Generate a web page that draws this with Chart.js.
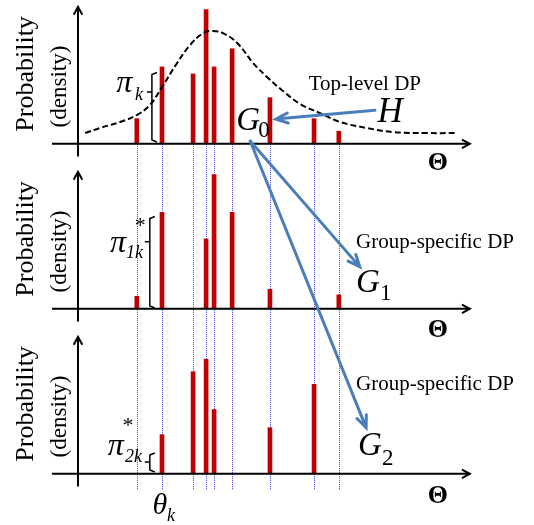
<!DOCTYPE html>
<html>
<head>
<meta charset="utf-8">
<script src="https://cdn.jsdelivr.net/npm/chart.js@4.4.1/dist/chart.umd.min.js"></script>
<style>
  html, body { margin: 0; padding: 0; background: #fff; }
  #hdp { display: block; }
</style>
</head>
<body>
<canvas id="hdp" width="534" height="525"></canvas>
<script>
// atom locations theta_k, shared by all three measures
const atoms = [1.40, 2.00, 2.74, 3.05, 3.24, 3.67, 4.57, 5.62, 6.21];
// stick weights per atom (null = atom has no mass in that group)
const topWeights = [0.18, 0.55, 0.50, 0.96, 0.55, 0.68, 0.33, 0.18, 0.09];
const group1Weights = [0.09, 0.69, null, 0.50, 0.96, 0.69, 0.14, null, 0.10];
const group2Weights = [null, 0.28, 0.73, 0.82, 0.46, null, 0.33, 0.64, null];
// base measure H (dashed curve)
const baseTheta = [0.17, 0.52, 1.00, 1.40, 1.71, 2.00, 2.36, 2.67, 2.98, 3.21, 3.45,
  3.79, 4.17, 4.50, 4.88, 5.29, 5.76, 6.24, 6.88, 7.50, 8.31, 9.02];
const baseDensity = [0.077, 0.113, 0.156, 0.206, 0.277, 0.406, 0.578, 0.707, 0.792, 0.807, 0.792,
  0.721, 0.578, 0.478, 0.378, 0.285, 0.220, 0.156, 0.113, 0.084, 0.077, 0.077];

const panels = ['y1', 'y2', 'y3'];
const serif = '"Liberation Serif", "Times New Roman", serif';
const red = '#c00000';
const blue = '#4a7ebb';

// annotation text: panel, theta, value, text, font, align
const notes = [
  ['y1', 1.10, 0.37, 'π', 'italic 32px', 'center'],
  ['y1', 1.36, 0.31, 'k', 'italic 18px', 'left'],
  ['y1', 4.05, 0.10, 'G', 'italic 33px', 'center'],
  ['y1', 4.29, 0.05, '0', '23px', 'left'],
  ['y1', 7.43, 0.156, 'H', 'italic 35px', 'center'],
  ['y1', 6.83, 0.385, 'Top-level DP', '21px', 'center'],
  ['y1', 8.57, -0.19, 'Θ', 'bold 26px', 'center'],
  ['y2', 0.95, 0.41, 'π', 'italic 32px', 'center'],
  ['y2', 1.48, 0.55, '*', '22px', 'center'],
  ['y2', 1.14, 0.36, '1k', 'italic 18px', 'left'],
  ['y2', 8.50, 0.435, 'Group-specific DP', '21px', 'center'],
  ['y2', 6.90, 0.12, 'G', 'italic 33px', 'center'],
  ['y2', 7.19, 0.063, '1', '23px', 'left'],
  ['y2', 8.57, -0.20, 'Θ', 'bold 26px', 'center'],
  ['y3', 0.90, 0.134, 'π', 'italic 32px', 'center'],
  ['y3', 1.19, 0.30, '*', '22px', 'center'],
  ['y3', 1.12, 0.084, '2k', 'italic 18px', 'left'],
  ['y3', 8.50, 0.60, 'Group-specific DP', '21px', 'center'],
  ['y3', 6.95, 0.134, 'G', 'italic 33px', 'center'],
  ['y3', 7.24, 0.063, '2', '23px', 'left'],
  ['y3', 8.57, -0.21, 'Θ', 'bold 26px', 'center'],
  ['y3', 1.95, -0.29, 'θ', 'italic 30px', 'center'],
  ['y3', 2.12, -0.34, 'k', 'italic 18px', 'left']
];
// braces marking a stick weight: panel, theta, low, mid, high
const braces = [
  ['y1', 1.76, 0.013, 0.37, 0.51],
  ['y2', 1.71, 0.006, 0.48, 0.66],
  ['y3', 1.71, 0.013, 0.084, 0.149]
];
// blue arrows: from [panel, theta, value] to [panel, theta, value]
const links = [
  [['y1', 7.07, 0.241], ['y1', 4.71, 0.177]],
  [['y1', 4.10, 0.02], ['y2', 6.71, 0.30]],
  [['y1', 4.10, 0.02], ['y3', 6.86, 0.33]]
];

function arrow(ctx, x1, y1, x2, y2, head, spread) {
  const a = Math.atan2(y2 - y1, x2 - x1);
  ctx.beginPath();
  ctx.moveTo(x1, y1);
  ctx.lineTo(x2, y2);
  ctx.moveTo(x2 - head * Math.cos(a - spread), y2 - head * Math.sin(a - spread));
  ctx.lineTo(x2, y2);
  ctx.lineTo(x2 - head * Math.cos(a + spread), y2 - head * Math.sin(a + spread));
  ctx.stroke();
}

const overlay = {
  id: 'overlay',
  beforeDatasetsDraw(chart) {
    const ctx = chart.ctx;
    const xs = chart.scales.x;
    ctx.save();
    ctx.strokeStyle = '#3d3dff';
    ctx.lineWidth = 1;
    ctx.setLineDash([1, 1]);
    atoms.forEach((t) => {
      const px = Math.round(xs.getPixelForValue(t)) + 0.5;
      ctx.beginPath();
      ctx.moveTo(px, chart.scales.y1.getPixelForValue(0));
      ctx.lineTo(px, chart.scales.y3.getPixelForValue(-0.116));
      ctx.stroke();
    });
    ctx.restore();
  },
  afterDatasetsDraw(chart) {
    const ctx = chart.ctx;
    const xs = chart.scales.x;
    const pt = (id, t, v) => [xs.getPixelForValue(t), chart.scales[id].getPixelForValue(v)];
    ctx.save();
    // axes with arrowheads
    ctx.strokeStyle = '#000';
    ctx.lineWidth = 2;
    ctx.lineJoin = 'miter';
    panels.forEach((id) => {
      const [ax0, ay] = pt(id, -0.62, 0);
      const [ax1] = pt(id, 9.33, 0);
      arrow(ctx, ax0, ay, ax1, ay, 9, 0.5);
      const [yx, yb] = pt(id, 0, -0.09);
      const [, yt] = pt(id, 0, 0.98);
      arrow(ctx, yx, yb, yx, yt, 9, 0.5);
      // rotated axis titles
      ctx.fillStyle = '#000';
      ctx.textAlign = 'center';
      ctx.textBaseline = 'middle';
      [[-1.24, 0.50, 'Probability', '26px'], [-0.43, 0.41, '(density)', '23px']].forEach(([t, v, s, f]) => {
        const [tx, ty] = pt(id, t, v);
        ctx.save();
        ctx.translate(tx, ty);
        ctx.rotate(-Math.PI / 2);
        ctx.font = f + ' ' + serif;
        ctx.fillText(s, 0, 0);
        ctx.restore();
      });
    });
    // braces
    ctx.lineWidth = 1.5;
    braces.forEach(([id, t, lo, mid, hi]) => {
      const [bx, by0] = pt(id, t, lo);
      const [, bym] = pt(id, t, mid);
      const [, by1] = pt(id, t, hi);
      ctx.beginPath();
      ctx.moveTo(bx + 5, by1);
      ctx.lineTo(bx, by1 + 2);
      ctx.lineTo(bx, by0 - 2);
      ctx.lineTo(bx + 5, by0);
      ctx.moveTo(bx - 5, bym);
      ctx.lineTo(bx, bym);
      ctx.stroke();
    });
    // text
    ctx.fillStyle = '#000';
    ctx.textBaseline = 'alphabetic';
    notes.forEach(([id, t, v, s, f, align]) => {
      const [tx, ty] = pt(id, t, v);
      ctx.font = f + ' ' + serif;
      ctx.textAlign = align;
      ctx.fillText(s, tx, ty);
    });
    // blue links
    ctx.strokeStyle = blue;
    ctx.lineWidth = 3;
    ctx.lineCap = 'round';
    links.forEach(([a, b]) => {
      const [x1, y1] = pt(...a);
      const [x2, y2] = pt(...b);
      arrow(ctx, x1, y1, x2, y2, 13, 0.4);
    });
    ctx.restore();
  }
};

const stickSet = (weights, axis) => ({
  type: 'bar',
  yAxisID: axis,
  data: atoms.map((t, i) => ({ x: t, y: weights[i] })).filter((p) => p.y !== null),
  backgroundColor: red,
  borderWidth: 0,
  barThickness: 4,
  grouped: false,
  order: 1
});

const yPanel = {
  type: 'linear',
  display: false,
  min: -0.18,
  max: 1.0,
  position: 'left',
  stack: 'panels',
  stackWeight: 1
};

new Chart(document.getElementById('hdp'), {
  type: 'bar',
  data: {
    datasets: [
      {
        type: 'line',
        yAxisID: 'y1',
        data: baseTheta.map((t, i) => ({ x: t, y: baseDensity[i] })),
        borderColor: '#000',
        borderWidth: 2,
        borderDash: [6, 3],
        pointRadius: 0,
        tension: 0.4,
        fill: false,
        order: 0
      },
      stickSet(topWeights, 'y1'),
      stickSet(group1Weights, 'y2'),
      stickSet(group2Weights, 'y3')
    ]
  },
  options: {
    responsive: false,
    animation: false,
    devicePixelRatio: 1,
    layout: { padding: { left: 0, right: 0, top: 4, bottom: 26 } },
    plugins: { legend: { display: false }, tooltip: { enabled: false } },
    scales: {
      x: { type: 'linear', display: false, offset: false, min: -1.857, max: 10.857 },
      y3: { ...yPanel },
      y2: { ...yPanel },
      y1: { ...yPanel }
    }
  },
  plugins: [overlay]
});
</script>
</body>
</html>
